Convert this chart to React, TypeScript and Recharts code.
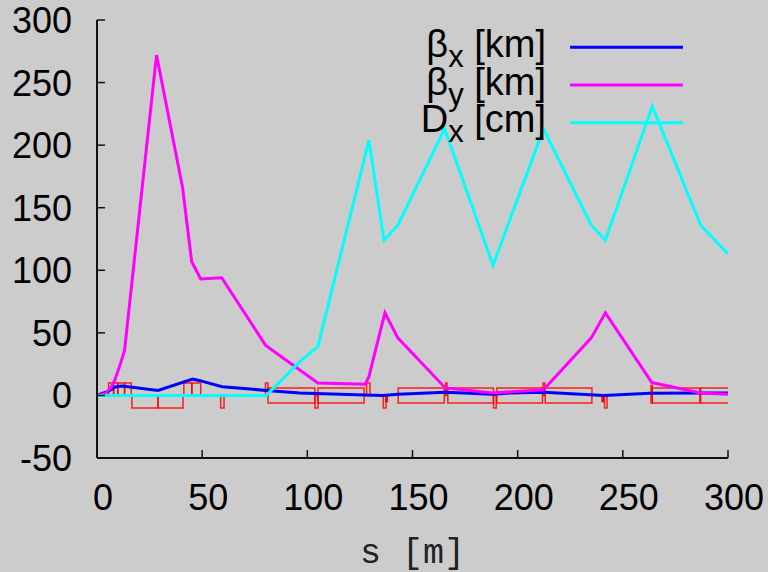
import React from 'react';
import { ComposedChart, Line, XAxis, YAxis, ReferenceArea, Legend, Label } from 'recharts';

// axis ticks
const xTicks = [0, 50, 100, 150, 200, 250, 300];
const yTicks = [-50, 0, 50, 100, 150, 200, 250, 300];

// beta_x [km]
const sBetaX = [0, 5.5, 9, 12, 29, 45.5, 48.5, 59.5, 80.5, 96.4, 127, 136, 143.2, 165.5, 188.3, 196.4, 212.3, 240.9, 263, 287, 300];
const betaX = [0, 3.5, 7, 7.6, 4, 13, 12, 7, 4, 2, 0.4, 0, 1, 2.6, 1, 2, 2.6, 0, 1.8, 2, 2];

// beta_y [km]
const sBetaY = [0, 4, 6.5, 8.4, 10.5, 12, 13.1, 28.3, 40.7, 45, 49.3, 59.3, 80.2, 105, 127.5, 129.3, 131.2, 136.9, 143, 165.6, 188.3, 212.3, 235, 241.7, 263.8, 287, 300];
const betaY = [0, 1.5, 6, 12, 22, 30, 36, 272, 166, 107, 93, 94, 40, 10, 9, 15, 28, 66, 46, 6, 2, 4.5, 46, 66, 10.3, 2, 1];

// D_x [cm]
const sDx = [0, 80.5, 96.4, 105, 129.3, 136.4, 143, 165.3, 188.3, 212.3, 235, 241.7, 264, 287, 300];
const dx = [0, 0, 27, 39, 204, 124, 136, 213, 104, 213, 136, 124, 231, 136, 113];

// lattice elements (outline boxes)
const magStart = [5.5, 7.9, 9.9, 13.1, 16.6, 29.0, 41.3, 45.1, 58.8, 80.1, 81.3, 103.6, 105.1, 128.2, 136.1, 143.2, 165.8, 166.8, 188.5, 190.1, 212.1, 213.1, 241.3, 263.4, 264.0, 287.0];
const magEnd = [7.9, 9.9, 13.1, 16.3, 29.0, 40.9, 45.1, 49.3, 60.4, 81.3, 103.6, 105.1, 127.0, 129.8, 137.4, 165.1, 166.4, 188.5, 189.8, 211.8, 212.9, 235.3, 242.5, 264.0, 286.6, 310];
const magLow = [0, 0, 0, 0, -10, -10, 0, 0, -10, 0, -6, -10, -6, 0, -10, -6, 0, -6, -10, -6, 0, -6, -10, -6, -6, -6];
const magHigh = [10, 10, 10, 10, 0, 0, 10, 10, 0, 10, 6, 0, 6, 10, 0, 6, 10, 6, 0, 6, 10, 6, 0, 8, 6, 6];

// small filled elements
const fillStart = [137.0, 239.8];
const fillEnd = [138.4, 241.3];
const fillLow = [-5.5, -5.5];
const fillHigh = [-1, -1];

const seriesNames = ['β', 'β', 'D'];
const seriesSubs = ['x', 'y', 'x'];
const seriesUnits = [' [km]', ' [km]', ' [cm]'];
const seriesColors = ['#0000ff', '#ff00ff', '#00ffff'];

const betaXData = sBetaX.map((s, i) => ({ s, v: betaX[i] }));
const betaYData = sBetaY.map((s, i) => ({ s, v: betaY[i] }));
const dxData = sDx.map((s, i) => ({ s, v: dx[i] }));

const FONT = '"Liberation Sans", Arial, sans-serif';

const XTick = (props: any) => {
  const { x, y, payload } = props;
  return (
    <text x={x + 6} y={y} textAnchor="middle" fontFamily={FONT} fontSize={36} fill="#000">
      {payload.value}
    </text>
  );
};

const YTick = (props: any) => {
  const { x, y, payload } = props;
  return (
    <text x={x} y={y + 13} textAnchor="end" fontFamily={FONT} fontSize={36} fill="#000">
      {payload.value}
    </text>
  );
};

const LegendContent = () => (
  <svg width={330} height={130} style={{ display: 'block' }}>
    {seriesNames.map((n, i) => {
      const ly = 27.3 + i * 37.7;
      return (
        <g key={i}>
          <text x={166} y={ly + 9.5} textAnchor="end" fontFamily={FONT} fontSize={38} fill="#000">
            {n}
            <tspan dy={10} fontSize={31}>{seriesSubs[i]}</tspan>
            <tspan dy={-10}>{seriesUnits[i]}</tspan>
          </text>
          <line x1={190} x2={303} y1={ly} y2={ly} stroke={seriesColors[i]} strokeWidth={3} />
        </g>
      );
    })}
  </svg>
);

export default function App() {
  return (
    <div style={{ position: 'absolute', left: 0, top: 0, width: 768, height: 572, background: '#cccccc' }}>
      <ComposedChart width={768} height={572} margin={{ top: 20, right: 40, left: 0, bottom: 0 }}>
        <XAxis
          xAxisId={0}
          dataKey="s"
          type="number"
          domain={[0, 300]}
          ticks={xTicks}
          interval={0}
          allowDataOverflow
          height={114}
          tickSize={-8}
          tickMargin={60}
          tick={<XTick />}
          axisLine={{ stroke: '#111', strokeWidth: 2 }}
          tickLine={{ stroke: '#111', strokeWidth: 1.5 }}
        >
          <Label
            value="s [m]"
            position="insideBottom"
            offset={9}
            style={{ fontFamily: '"Liberation Mono", "Courier New", monospace', fontSize: 35, fill: '#222' }}
          />
        </XAxis>
        <XAxis
          xAxisId="top"
          orientation="top"
          type="number"
          domain={[0, 300]}
          ticks={xTicks}
          interval={0}
          allowDataOverflow
          height={0}
          tickSize={-8}
          tick={false}
          axisLine={{ stroke: '#111', strokeWidth: 2 }}
          tickLine={{ stroke: '#111', strokeWidth: 1.5 }}
        />
        <YAxis
          yAxisId={0}
          type="number"
          domain={[-50, 300]}
          ticks={yTicks}
          interval={0}
          allowDataOverflow
          width={97}
          tickSize={-8}
          tickMargin={33}
          tick={<YTick />}
          axisLine={{ stroke: '#111', strokeWidth: 2 }}
          tickLine={{ stroke: '#111', strokeWidth: 1.5 }}
        />
        <YAxis
          yAxisId="right"
          orientation="right"
          type="number"
          domain={[-50, 300]}
          ticks={yTicks}
          interval={0}
          allowDataOverflow
          width={0}
          tickSize={-8}
          tick={false}
          axisLine={{ stroke: '#111', strokeWidth: 2 }}
          tickLine={{ stroke: '#111', strokeWidth: 1.5 }}
        />
        {magStart.map((s0, i) => (
          <ReferenceArea
            key={'m' + i}
            x1={s0}
            x2={magEnd[i]}
            y1={magLow[i]}
            y2={magHigh[i]}
            fill="none"
            fillOpacity={0}
            stroke="#ff0000"
            strokeWidth={1.5}
            strokeOpacity={0.85}
            ifOverflow="hidden"
          />
        ))}
        {fillStart.map((s0, i) => (
          <ReferenceArea
            key={'f' + i}
            x1={s0}
            x2={fillEnd[i]}
            y1={fillLow[i]}
            y2={fillHigh[i]}
            fill="#ff0000"
            fillOpacity={1}
            stroke="none"
            ifOverflow="hidden"
          />
        ))}
        <Line data={betaXData} dataKey="v" type="linear" stroke={seriesColors[0]} strokeWidth={3} dot={false} isAnimationActive={false} />
        <Line data={betaYData} dataKey="v" type="linear" stroke={seriesColors[1]} strokeWidth={3} dot={false} isAnimationActive={false} />
        <Line data={dxData} dataKey="v" type="linear" stroke={seriesColors[2]} strokeWidth={3} dot={false} isAnimationActive={false} />
        <Legend
          layout="vertical"
          align="center"
          verticalAlign="middle"
          content={<LegendContent />}
          wrapperStyle={{ left: 380, top: 20, width: 330, height: 130 }}
        />
      </ComposedChart>
    </div>
  );
}
